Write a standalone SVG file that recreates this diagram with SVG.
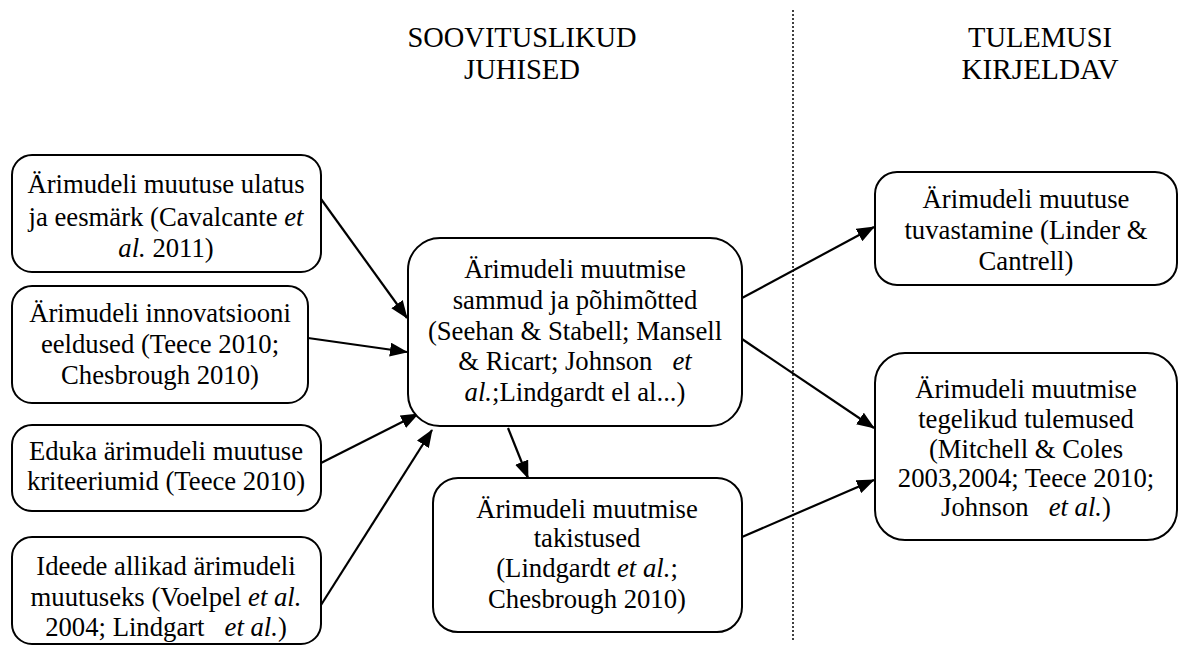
<svg xmlns="http://www.w3.org/2000/svg" width="1179" height="646" viewBox="0 0 1179 646">
<style>
.box{fill:#fff;stroke:#000;stroke-width:2}
text{font-family:'Liberation Serif','DejaVu Serif',serif;fill:#000;text-anchor:middle}
.t{font-size:26.7px;white-space:pre}
.h{font-size:30px}
.i{font-style:italic}
.c{stroke:#000;stroke-width:2.2;fill:none;marker-end:url(#ah)}
</style>
<defs>
<marker id="ah" markerWidth="18" markerHeight="14" refX="17" refY="7" orient="auto" markerUnits="userSpaceOnUse">
<path d="M0,0 L18,7 L0,14 Z" fill="#000"/>
</marker>
</defs>
<rect width="1179" height="646" fill="#fff"/>
<g id="headers">
<text class="h" x="522" y="47" textLength="229" lengthAdjust="spacingAndGlyphs">SOOVITUSLIKUD</text>
<text class="h" x="522" y="79" textLength="116" lengthAdjust="spacingAndGlyphs">JUHISED</text>
<text class="h" x="1040" y="47" textLength="144" lengthAdjust="spacingAndGlyphs">TULEMUSI</text>
<text class="h" x="1040" y="79" textLength="157" lengthAdjust="spacingAndGlyphs">KIRJELDAV</text>
</g>
<line x1="793" y1="10" x2="793" y2="640" stroke="#000" stroke-width="1.5" stroke-dasharray="2,2"/>
<g id="connectors">
<line class="c" x1="321" y1="199" x2="407" y2="318"/>
<line class="c" x1="308" y1="338" x2="407" y2="352"/>
<line class="c" x1="321" y1="463" x2="418" y2="414"/>
<line class="c" x1="321" y1="605" x2="432" y2="430"/>
<line class="c" x1="508" y1="428" x2="528" y2="478"/>
<line class="c" x1="742" y1="298" x2="874" y2="227"/>
<line class="c" x1="742" y1="339" x2="874" y2="428"/>
<line class="c" x1="742" y1="537" x2="874" y2="480"/>
</g>
<g id="n1">
<rect class="box" x="12" y="155" width="309" height="117" rx="20"/>
<text class="t" x="166" y="193">Ärimudeli muutuse ulatus</text>
<text class="t" x="166" y="226">ja eesmärk (Cavalcante <tspan class="i">et</tspan></text>
<text class="t" x="166" y="257"><tspan class="i">al.</tspan> 2011)</text>
</g>
<g id="n2">
<rect class="box" x="12" y="286" width="296" height="117" rx="20"/>
<text class="t" x="160" y="322">Ärimudeli innovatsiooni</text>
<text class="t" x="160" y="353">eeldused (Teece 2010;</text>
<text class="t" x="160" y="384">Chesbrough 2010)</text>
</g>
<g id="n3">
<rect class="box" x="12" y="425" width="309" height="86" rx="20"/>
<text class="t" x="166" y="460">Eduka ärimudeli muutuse</text>
<text class="t" x="166" y="490">kriteeriumid (Teece 2010)</text>
</g>
<g id="n4">
<rect class="box" x="12" y="537" width="309" height="107" rx="20"/>
<text class="t" x="166" y="575">Ideede allikad ärimudeli</text>
<text class="t" x="166" y="606">muutuseks (Voelpel <tspan class="i">et al.</tspan></text>
<text class="t" x="166" y="636">2004; Lindgart   <tspan class="i">et al.</tspan>)</text>
</g>
<g id="n5">
<rect class="box" x="408" y="238" width="334" height="188" rx="32"/>
<text class="t" x="575" y="278">Ärimudeli muutmise</text>
<text class="t" x="575" y="309">sammud ja põhimõtted</text>
<text class="t" x="575" y="340">(Seehan &amp; Stabell; Mansell</text>
<text class="t" x="575" y="370">&amp; Ricart; Johnson   <tspan class="i">et</tspan></text>
<text class="t" x="575" y="401"><tspan class="i">al.</tspan>;Lindgardt el al...)</text>
</g>
<g id="n6">
<rect class="box" x="433" y="478" width="309" height="154" rx="25"/>
<text class="t" x="587" y="518">Ärimudeli muutmise</text>
<text class="t" x="587" y="547">takistused</text>
<text class="t" x="587" y="577">(Lindgardt <tspan class="i">et al.</tspan>;</text>
<text class="t" x="587" y="608">Chesbrough 2010)</text>
</g>
<g id="n7">
<rect class="box" x="875" y="172" width="302" height="113" rx="22"/>
<text class="t" x="1026" y="208">Ärimudeli muutuse</text>
<text class="t" x="1026" y="239">tuvastamine (Linder &amp;</text>
<text class="t" x="1026" y="270">Cantrell)</text>
</g>
<g id="n8">
<rect class="box" x="875" y="353" width="302" height="187" rx="30"/>
<text class="t" x="1026" y="398">Ärimudeli muutmise</text>
<text class="t" x="1026" y="428">tegelikud tulemused</text>
<text class="t" x="1026" y="458">(Mitchell &amp; Coles</text>
<text class="t" x="1026" y="487">2003,2004; Teece 2010;</text>
<text class="t" x="1026" y="516">Johnson   <tspan class="i">et al.</tspan>)</text>
</g>
</svg>
